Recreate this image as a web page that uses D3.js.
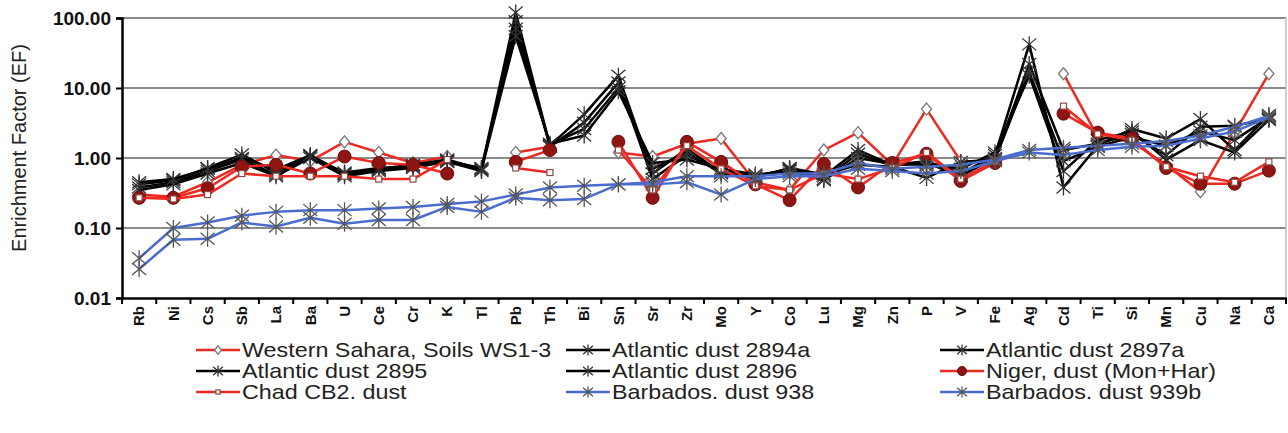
<!DOCTYPE html>
<html>
<head>
<meta charset="utf-8">
<script src="https://cdn.jsdelivr.net/npm/d3@7"></script>
<style>
  body { margin: 0; background: #fff; }
  svg { display: block; font-family: "Liberation Sans", Arial, sans-serif; }
</style>
</head>
<body>
<div id="chart"></div>
<script>
// element order along the x axis
const elements = ["Rb", "Ni", "Cs", "Sb", "La", "Ba", "U", "Ce", "Cr", "K", "Tl", "Pb", "Th", "Bi", "Sn", "Sr", "Zr", "Mo", "Y", "Co", "Lu", "Mg", "Zn", "P", "V", "Fe", "Ag", "Cd", "Ti", "Si", "Mn", "Cu", "Na", "Ca"];
const yTicks = [0.01, 0.1, 1, 10, 100];

// enrichment factors (null = no value)
const wsSoils = [0.3, 0.28, 0.45, 0.8, 1.1, 0.9, 1.7, 1.2, 0.85, 1.05, null, 1.2, 1.45, null, 1.2, 1.05, 1.6, 1.9, 0.45, 0.35, 1.3, 2.3, 0.8, 5.0, 0.9, 0.9, null, 16, 2.0, 1.7, 0.8, 0.33, 2.3, 16];
const atl2894a = [0.42, 0.48, 0.72, 1.12, 0.62, 1.08, 0.58, 0.68, 0.78, 0.92, 0.7, 120, 1.5, 4.2, 15, 0.6, 1.35, 0.62, 0.55, 0.7, 0.55, 1.3, 0.8, 0.9, 0.6, 1.1, 42, 0.38, 1.5, 2.6, 1.9, 3.6, 1.3, 4.1];
const atl2897a = [0.38, 0.45, 0.65, 0.95, 0.58, 1.05, 0.62, 0.72, 0.75, 0.88, 0.65, 90, 1.45, 3.2, 12, 0.5, 1.1, 0.66, 0.55, 0.68, 0.5, 1.15, 0.78, 0.85, 0.55, 1.0, 22, 1.3, 1.6, 2.2, 1.1, 2.8, 2.9, 3.6];
const atl2895 = [0.35, 0.42, 0.6, 0.85, 0.55, 1.0, 0.55, 0.65, 0.72, 0.9, 0.72, 70, 1.55, 2.6, 10, 0.7, 1.2, 0.6, 0.52, 0.72, 0.58, 0.8, 0.75, 0.52, 0.88, 0.95, 17, 0.9, 1.45, 2.0, 1.5, 2.4, 1.8, 3.8];
const atl2896 = [0.45, 0.5, 0.7, 1.0, 0.68, 1.1, 0.6, 0.7, 0.8, 0.95, 0.68, 55, 1.6, 2.1, 9, 0.85, 0.95, 0.7, 0.58, 0.65, 0.48, 1.0, 0.82, 0.8, 0.7, 1.2, 15, 0.65, 1.8, 2.4, 0.95, 1.8, 1.2, 3.5];
const nigerDust = [0.27, 0.27, 0.37, 0.75, 0.8, 0.6, 1.05, 0.85, 0.8, 0.6, null, 0.88, 1.3, null, 1.7, 0.27, 1.7, 0.88, 0.42, 0.25, 0.82, 0.38, 0.85, 1.15, 0.47, 0.85, null, 4.3, 2.3, 1.9, 0.72, 0.43, 0.43, 0.66];
const chadDust = [0.27, 0.26, 0.3, 0.6, 0.55, 0.55, 0.55, 0.5, 0.5, 0.95, null, 0.72, 0.62, null, 1.3, 0.35, 1.5, 0.7, 0.4, 0.35, 0.6, 0.5, 0.72, 1.2, 0.5, 0.9, null, 5.5, 2.2, 1.8, 0.75, 0.55, 0.45, 0.88];
const barb938 = [0.037, 0.1, 0.12, 0.15, 0.17, 0.18, 0.18, 0.19, 0.2, 0.22, 0.24, 0.3, 0.38, 0.4, 0.42, 0.45, 0.55, 0.55, 0.55, 0.6, 0.6, 0.85, 0.7, 0.75, 0.8, 0.95, 1.3, 1.4, 1.5, 1.6, 1.75, 2.1, 2.8, 4.0];
const barb939b = [0.026, 0.068, 0.07, 0.12, 0.105, 0.14, 0.115, 0.13, 0.13, 0.2, 0.17, 0.27, 0.25, 0.26, 0.42, 0.42, 0.45, 0.3, 0.5, 0.55, 0.55, 0.7, 0.65, 0.6, 0.65, 0.9, 1.2, 1.1, 1.3, 1.45, 1.5, 1.9, 2.4, 3.8];

const seriesNames = ["Western Sahara, Soils WS1-3", "Atlantic dust 2894a", "Atlantic dust 2897a", "Atlantic dust 2895", "Atlantic dust 2896", "Niger, dust (Mon+Har)", "Chad CB2. dust", "Barbados. dust 938", "Barbados. dust 939b"];

const RED = "#ec2a22", BLACK = "#000", BLUE = "#4a6ccc";
const series = [
  { name: seriesNames[0], values: wsSoils, color: RED, marker: "diamond" },
  { name: seriesNames[1], values: atl2894a, color: BLACK, marker: "star" },
  { name: seriesNames[2], values: atl2897a, color: BLACK, marker: "star" },
  { name: seriesNames[3], values: atl2895, color: BLACK, marker: "star" },
  { name: seriesNames[4], values: atl2896, color: BLACK, marker: "star" },
  { name: seriesNames[5], values: nigerDust, color: RED, marker: "circle" },
  { name: seriesNames[6], values: chadDust, color: RED, marker: "square" },
  { name: seriesNames[7], values: barb938, color: BLUE, marker: "star" },
  { name: seriesNames[8], values: barb939b, color: BLUE, marker: "star" }
];

const width = 1288, height = 433;
const margin = { top: 18, right: 2, bottom: 135, left: 122 };
const svg = d3.select("#chart").append("svg")
  .attr("width", width)
  .attr("height", height);
svg.append("rect").attr("width", width).attr("height", height).attr("fill", "#fff");

const x = d3.scaleBand().domain(elements).range([margin.left, width - margin.right]).padding(0);
const y = d3.scaleLog().domain([0.01, 100]).range([height - margin.bottom, margin.top]);
const cx = d => x(d) + x.bandwidth() / 2;

// gridlines + frame
svg.append("g").selectAll("line")
  .data(yTicks.slice(1))
  .join("line")
  .attr("x1", margin.left).attr("x2", width - margin.right)
  .attr("y1", d => y(d)).attr("y2", d => y(d))
  .attr("stroke", "#8a8a8a").attr("stroke-width", 2);
svg.append("line")
  .attr("x1", width - margin.right).attr("x2", width - margin.right)
  .attr("y1", y(100)).attr("y2", y(0.01))
  .attr("stroke", "#bbb").attr("stroke-width", 1.5);

// y axis
const yAxis = svg.append("g")
  .attr("transform", `translate(${margin.left},0)`)
  .call(d3.axisLeft(y).tickValues(yTicks).tickFormat(d3.format(".2f")).tickSize(6).tickPadding(5));
yAxis.select(".domain").attr("stroke", "#000").attr("stroke-width", 2.5);
yAxis.selectAll(".tick line").attr("stroke", "#000").attr("stroke-width", 2);
yAxis.selectAll(".tick text")
  .attr("font-size", 19).attr("font-weight", "bold").attr("fill", "#111")
  .attr("font-family", "Liberation Sans, Arial, sans-serif");

// x axis, Excel style ticks on category boundaries
const xAxis = svg.append("g")
  .attr("transform", `translate(0,${y(0.01)})`)
  .call(d3.axisBottom(x).tickSize(0).tickPadding(8));
xAxis.select(".domain").attr("stroke", "#000").attr("stroke-width", 2.5);
xAxis.selectAll(".tick text")
  .attr("transform", "rotate(-90)")
  .attr("text-anchor", "end")
  .attr("dy", "0.35em")
  .attr("x", -8).attr("y", 0)
  .attr("font-size", 15).attr("font-weight", "bold").attr("fill", "#111")
  .attr("font-family", "Liberation Sans, Arial, sans-serif");
svg.append("g").selectAll("line")
  .data(elements.concat(["_end"]))
  .join("line")
  .attr("x1", d => d === "_end" ? x.range()[1] : x(d))
  .attr("x2", d => d === "_end" ? x.range()[1] : x(d))
  .attr("y1", y(0.01)).attr("y2", y(0.01) + 6)
  .attr("stroke", "#000").attr("stroke-width", 2);

// y title
svg.append("text")
  .attr("transform", `translate(26,${(y(100) + y(0.01)) / 2 - 10}) rotate(-90)`)
  .attr("text-anchor", "middle")
  .attr("font-size", 20).attr("fill", "#222")
  .text("Enrichment Factor (EF)");

// marker drawing, k scales the size (legend uses smaller ones)
function drawMarker(g, type, color, px, py, k = 1) {
  if (type === "star") {
    const a = 8 * k, b = 7 * k, c = 6 * k;
    g.append("path")
      .attr("d", `M${px},${py - a}V${py + a}M${px - b},${py - c}L${px + b},${py + c}M${px - b},${py + c}L${px + b},${py - c}`)
      .attr("stroke", color === BLUE ? "#555" : "#333").attr("stroke-width", 1.3).attr("fill", "none");
  } else if (type === "diamond") {
    g.append("path")
      .attr("d", `M${px},${py - 6 * k}L${px + 5 * k},${py}L${px},${py + 6 * k}L${px - 5 * k},${py}Z`)
      .attr("fill", "#fff").attr("stroke", "#777").attr("stroke-width", 1.3);
  } else if (type === "circle") {
    g.append("circle").attr("cx", px).attr("cy", py).attr("r", 6.5 * k)
      .attr("fill", "#8e1512").attr("stroke", "#6d0f0c").attr("stroke-width", 1);
  } else if (type === "square") {
    g.append("rect").attr("x", px - 3 * k).attr("y", py - 3 * k).attr("width", 6 * k).attr("height", 6 * k)
      .attr("fill", "#fff").attr("stroke", "#8a4a44").attr("stroke-width", 1.2);
  }
}

const line = d3.line()
  .defined(d => d.v != null)
  .x(d => cx(d.el))
  .y(d => y(d.v));

const plot = svg.append("g");
series.forEach(s => {
  const pts = elements.map((el, i) => ({ el, v: s.values[i] }));
  const g = plot.append("g");
  g.append("path")
    .datum(pts)
    .attr("fill", "none")
    .attr("stroke", s.color)
    .attr("stroke-width", 2.5)
    .attr("stroke-linejoin", "round")
    .attr("d", line);
  pts.filter(d => d.v != null).forEach(d => drawMarker(g, s.marker, s.color, cx(d.el), y(d.v)));
});

// legend, 3 columns x 3 rows (text is a bit wider in the original, so stretch it)
const legCols = [196, 566, 940];
const legRows = [350, 371, 392];
series.forEach((s, i) => {
  const lx = legCols[i % 3], ly = legRows[Math.floor(i / 3)];
  const g = svg.append("g");
  g.append("line").attr("x1", lx).attr("x2", lx + 44).attr("y1", ly).attr("y2", ly)
    .attr("stroke", s.color).attr("stroke-width", 2.5);
  drawMarker(g, s.marker, s.color, lx + 22, ly, 0.7);
  const t = g.append("text")
    .attr("x", lx + 46).attr("y", ly + 7)
    .attr("font-size", 21).attr("fill", "#222")
    .text(s.name);
  const w = t.node().getComputedTextLength();
  t.attr("textLength", w * 1.11).attr("lengthAdjust", "spacingAndGlyphs");
});
</script>
</body>
</html>
